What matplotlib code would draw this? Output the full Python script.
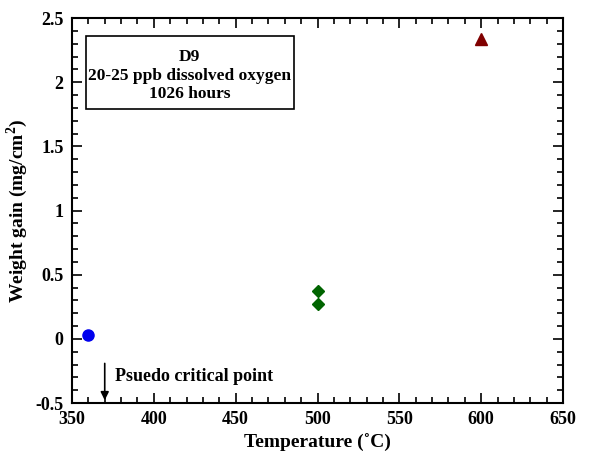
import matplotlib
matplotlib.use("Agg")
from matplotlib import pyplot as plt
from matplotlib.patches import Rectangle
from matplotlib.ticker import MultipleLocator

plt.rcParams['font.family'] = ['Liberation Serif', 'DejaVu Serif']
plt.rcParams['font.weight'] = 'bold'
plt.rcParams['mathtext.fontset'] = 'custom'
plt.rcParams['mathtext.bf'] = 'Liberation Serif:bold'
plt.rcParams['mathtext.rm'] = 'Liberation Serif:bold'

# data
circle_x = [360]
circle_y = [0.03]
diamond_x = [500, 500]
diamond_y = [0.37, 0.27]
triangle_x = [600]
triangle_y = [2.34]

fig = plt.figure(figsize=(5.9, 4.58), dpi=100)
ax = fig.add_axes([72 / 590, 55 / 458, 491 / 590, 385 / 458])

ax.plot(circle_x, circle_y, "o", color="#0000ee", markersize=8)
ax.plot(diamond_x, diamond_y, "D", color="#006400", markersize=6)
ax.plot(triangle_x, triangle_y, "^", color="#800000", markersize=8)

ax.set_xlim(350, 650)
ax.set_ylim(-0.5, 2.5)
ax.xaxis.set_major_locator(MultipleLocator(50))
ax.xaxis.set_minor_locator(MultipleLocator(10))
ax.yaxis.set_major_locator(MultipleLocator(0.5))
ax.yaxis.set_minor_locator(MultipleLocator(0.1))
ax.yaxis.set_major_formatter(matplotlib.ticker.FuncFormatter(lambda v, p: f"{v:g}"))
ax.tick_params(which="both", direction="in", top=True, right=True, width=1.2)
ax.tick_params(which="major", length=7, labelsize=13, pad=6)
ax.tick_params(which="minor", length=4)
for s in ax.spines.values():
    s.set_linewidth(1.5)

ax.set_xlabel("Temperature (˚C)", fontsize=14, fontweight="bold")
ax.set_ylabel("Weight gain (mg/cm$^{\\mathrm{2}}$)", fontsize=14, fontweight="bold")

# legend box
ax.add_patch(Rectangle((358.6, 1.79), 127, 0.57, facecolor="white", edgecolor="black",
                       linewidth=1.2, zorder=3))
ax.text(422, 2.05, "D9\n20-25 ppb dissolved oxygen\n1026 hours", ha="center", va="center",
        fontsize=12.5, fontweight="bold", linespacing=1.2, zorder=4)

ax.annotate("", xy=(370, -0.5), xytext=(370, -0.17),
            arrowprops=dict(arrowstyle="-|>", color="black", lw=1.2, mutation_scale=12))
ax.text(376, -0.29, "Psuedo critical point", fontsize=13, fontweight="bold", va="center")

fig.savefig("out.png", dpi=100)
